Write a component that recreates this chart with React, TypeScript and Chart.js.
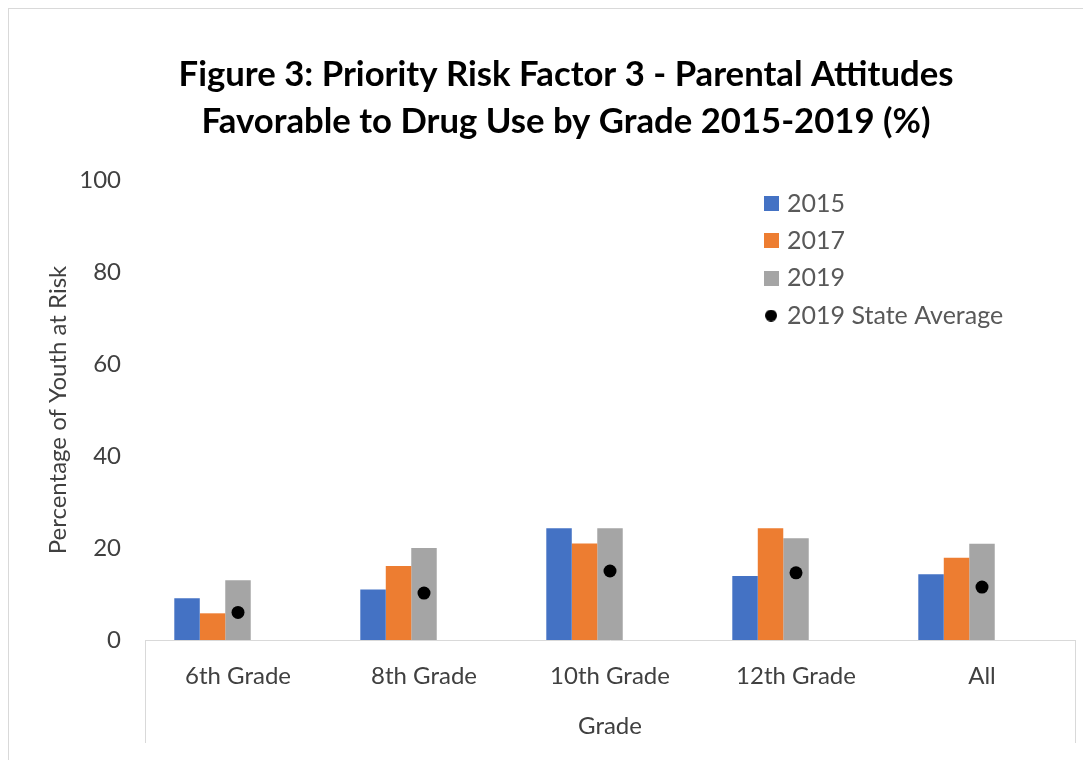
import React, { useEffect, useRef } from 'react';
import { Chart, registerables } from 'chart.js';

Chart.register(...registerables);

// ---------- data ----------
const categories = ['6th Grade', '8th Grade', '10th Grade', '12th Grade', 'All'];
const values2015 = [9.1, 11.0, 24.3, 13.9, 14.3];
const values2017 = [5.8, 16.1, 21.0, 24.3, 17.9];
const values2019 = [13.0, 20.0, 24.3, 22.1, 20.9];
const stateAverage2019 = [6.0, 10.2, 15.0, 14.6, 11.5];
const seriesLabels = ['2015', '2017', '2019', '2019 State Average'];
const yTicks = [0, 20, 40, 60, 80, 100];
const titleLines = [
  'Figure 3: Priority Risk Factor 3 - Parental Attitudes',
  'Favorable to Drug Use by Grade 2015-2019 (%)',
];
const xAxisTitle = 'Grade';
const yAxisTitle = 'Percentage of Youth at Risk';

// ---------- style ----------
const COLORS = ['#4472C4', '#ED7D31', '#A5A5A5', '#000000'];
const FONT = 'Lato, "Open Sans", sans-serif';
const AXIS_TEXT = '#404040';
const LEGEND_TEXT = '#595959';
const FRAME = '#d9d9d9';

const LEGEND_FONT = 25;
const LEGEND_PAD = 12.33;
const LEGEND_LEFT = 746.2;
const LEGEND_TOP = 169.7;

function squareImg(color: string, size: number) {
  const c = document.createElement('canvas');
  c.width = size;
  c.height = size;
  const g = c.getContext('2d')!;
  g.fillStyle = color;
  g.fillRect(0, 0, size, size);
  return c;
}

function dotImg(color: string, d: number) {
  const c = document.createElement('canvas');
  c.width = d;
  c.height = d;
  const g = c.getContext('2d')!;
  g.fillStyle = color;
  g.beginPath();
  g.arc(d / 2, d / 2, d / 2, 0, Math.PI * 2);
  g.fill();
  return c;
}

const legendPlacer = {
  id: 'legendPlacer',
  afterLayout(chart: any) {
    const lg = chart.legend;
    if (!lg) return;
    lg.left = LEGEND_LEFT;
    lg.top = LEGEND_TOP;
    lg.width = 330;
    lg.height = 220;
    lg.right = LEGEND_LEFT + 330;
    lg.bottom = LEGEND_TOP + 220;
  },
};

export default function App() {
  const ref = useRef<HTMLCanvasElement | null>(null);

  useEffect(() => {
    if (!ref.current) return;
    const legendImgs = [
      squareImg(COLORS[0], 15),
      squareImg(COLORS[1], 15),
      squareImg(COLORS[2], 15),
      dotImg(COLORS[3], 12),
    ];

    const chart = new Chart(ref.current, {
      type: 'bar',
      data: {
        labels: categories,
        datasets: [
          { type: 'bar', label: seriesLabels[0], data: values2015, backgroundColor: COLORS[0], borderWidth: 0 },
          { type: 'bar', label: seriesLabels[1], data: values2017, backgroundColor: COLORS[1], borderWidth: 0 },
          { type: 'bar', label: seriesLabels[2], data: values2019, backgroundColor: COLORS[2], borderWidth: 0 },
          // empty slots reserved in each cluster (as in the original layout)
          { type: 'bar', label: '', data: [], backgroundColor: 'rgba(0,0,0,0)' },
          { type: 'bar', label: '', data: [], backgroundColor: 'rgba(0,0,0,0)' },
          {
            type: 'line',
            label: seriesLabels[3],
            data: stateAverage2019,
            showLine: false,
            pointRadius: 6.5,
            pointHoverRadius: 6.5,
            pointBackgroundColor: COLORS[3],
            pointBorderWidth: 0,
            backgroundColor: COLORS[3],
            borderColor: COLORS[3],
            order: -1,
          } as any,
        ],
      },
      options: {
        animation: false,
        responsive: true,
        maintainAspectRatio: false,
        datasets: {
          bar: { categoryPercentage: 0.685, barPercentage: 1 },
        } as any,
        layout: { padding: { left: 48, right: 16, top: 0, bottom: 0 } },
        plugins: {
          tooltip: { enabled: false },
          title: {
            display: true,
            text: titleLines,
            color: '#000000',
            font: { family: FONT, size: 34.7, weight: 'bold', lineHeight: '47px' } as any,
            padding: { top: 42.5, bottom: 34.5 },
          },
          legend: {
            display: true,
            position: 'chartArea' as any,
            align: 'start',
            labels: {
              usePointStyle: true,
              boxWidth: 7,
              padding: LEGEND_PAD,
              color: LEGEND_TEXT,
              font: { family: FONT, size: LEGEND_FONT },
              generateLabels: (ch: any) => {
                const items = (Chart.defaults.plugins.legend.labels as any).generateLabels(ch);
                return items
                  .filter((it: any) => it.text)
                  .sort((a: any, b: any) => a.datasetIndex - b.datasetIndex)
                  .map((it: any) => {
                    const idx = seriesLabels.indexOf(it.text);
                    return { ...it, pointStyle: legendImgs[idx], lineWidth: 0, fontColor: LEGEND_TEXT };
                  });
              },
            },
          },
        },
        scales: {
          x: {
            grid: {
              display: true,
              drawOnChartArea: false,
              drawTicks: true,
              tickLength: 103,
              offset: true,
              color: (c: any) => (c.type === 'scale' || c.index === 0 ? FRAME : 'rgba(0,0,0,0)'),
              lineWidth: 1,
            },
            border: { display: true, color: FRAME, width: 1 },
            ticks: {
              color: AXIS_TEXT,
              font: { family: FONT, size: 24 },
              padding: -81.4,
              maxRotation: 0,
              autoSkip: false,
            },
            title: {
              display: true,
              text: xAxisTitle,
              color: AXIS_TEXT,
              font: { family: FONT, size: 24 },
              padding: { top: 0, bottom: 19.6 },
            },
            afterFit: (s: any) => {
              s.height = 120;
            },
          },
          y: {
            min: 0,
            max: 100,
            grid: { display: false, drawTicks: false },
            border: { display: false },
            ticks: {
              color: AXIS_TEXT,
              font: { family: FONT, size: 24 },
              padding: 24,
            },
            afterBuildTicks: (s: any) => {
              s.ticks = yTicks.map((v) => ({ value: v }));
            },
            title: {
              display: true,
              text: yAxisTitle,
              color: AXIS_TEXT,
              font: { family: FONT, size: 24 },
              padding: { top: -13.4, bottom: 0 },
            },
            afterFit: (s: any) => {
              s.width = 88;
            },
          },
        },
      },
      plugins: [legendPlacer],
    });

    return () => chart.destroy();
  }, []);

  return (
    <div
      style={{
        borderTop: `1px solid ${FRAME}`,
        borderLeft: `1px solid ${FRAME}`,
        width: 1083,
        height: 752,
        boxSizing: 'border-box',
        background: '#ffffff',
      }}
    >
      <div style={{ position: 'relative', width: 1082, height: 751 }}>
        <canvas ref={ref} />
      </div>
    </div>
  );
}
